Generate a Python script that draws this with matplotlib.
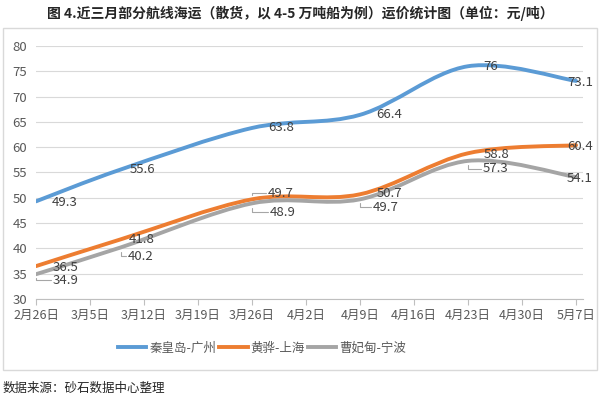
import pandas as pd
import matplotlib
matplotlib.use('Agg')
import matplotlib.pyplot as plt
import matplotlib.dates as mdates
from matplotlib.path import Path
from matplotlib.patches import PathPatch, Rectangle
from matplotlib.lines import Line2D

plt.rcParams['font.family'] = ['Noto Sans CJK SC', 'DejaVu Sans']

# data
dates = ['2019-02-26', '2019-03-09', '2019-03-26', '2019-04-09', '2019-04-23', '2019-05-07']
names = ['秦皇岛-广州', '黄骅-上海', '曹妃甸-宁波']
qhd_gz = [49.3, 55.6, 63.8, 66.4, 76.0, 73.1]
hh_sh = [36.5, 41.8, 49.7, 50.7, 58.8, 60.4]
cfd_nb = [34.9, 40.2, 48.9, 49.7, 57.3, 54.1]
tick_labels = ['2月26日', '3月5日', '3月12日', '3月19日', '3月26日', '4月2日',
               '4月9日', '4月16日', '4月23日', '4月30日', '5月7日']
y_ticks = [30, 35, 40, 45, 50, 55, 60, 65, 70, 75, 80]

title = '图 4.近三月部分航线海运（散货，以 4-5 万吨船为例）运价统计图（单位：元/吨）'
source = '数据来源：砂石数据中心整理'

colors = ['#5B9BD5', '#ED7D31', '#A5A5A5']
# label offsets in pixels (dx, dy), and whether a leader line is drawn
label_offsets = [
    [(29, -1), (22, 0), (29, 0), (29, 0), (23, 0), (4, -2)],
    [(30, -1), (21, 0), (29, 6), (29, 1), (29, -1), (4, -1)],
    [(30, -6), (20, -9), (31, -9), (26, -8), (28, -8), (4, -1)],
]
leaders = [
    [False] * 6,
    [False, False, True, False, False, False],
    [True, True, True, True, True, False],
]


def smooth_path(x, y):
    """Excel-like smoothed line as cubic bezier segments."""
    pts = list(zip(x, y))
    n = len(pts)
    verts = [pts[0]]
    codes = [Path.MOVETO]
    for i in range(n - 1):
        p0 = pts[max(i - 1, 0)]
        p1 = pts[i]
        p2 = pts[i + 1]
        p3 = pts[min(i + 2, n - 1)]
        c1 = (p1[0] + (p2[0] - p0[0]) / 6, p1[1] + (p2[1] - p0[1]) / 6)
        c2 = (p2[0] - (p3[0] - p1[0]) / 6, p2[1] - (p3[1] - p1[1]) / 6)
        verts += [c1, c2, p2]
        codes += [Path.CURVE4] * 3
    return Path(verts, codes)


fig = plt.figure(figsize=(6, 3.98), dpi=100)
ax = fig.add_axes([36 / 600, 1 - 299 / 398, (583 - 36) / 600, (299 - 46) / 398])

x = mdates.date2num(pd.to_datetime(dates))
tick_x = mdates.date2num(pd.date_range(dates[0], periods=len(tick_labels), freq='7D'))

series = [qhd_gz, hh_sh, cfd_nb]
for vals, color in zip(series, colors):
    patch = PathPatch(smooth_path(x, vals), fill=False, edgecolor=color, lw=2.8,
                      capstyle='round', joinstyle='round', zorder=3)
    ax.add_patch(patch)

for s, vals in enumerate(series):
    for i, v in enumerate(vals):
        dx, dy = label_offsets[s][i]
        txt = f'{v:g}'
        ax.annotate(txt, xy=(x[i], v), xytext=(dx, dy), textcoords='offset pixels',
                    ha='center', va='center', fontsize=9.5, color='#404040', zorder=5)
        if leaders[s][i]:
            # short bent leader from near the point to the label
            lx = dx - 15
            ax.annotate('', xy=(x[i], v), xytext=(lx, dy), textcoords='offset pixels',
                        arrowprops=dict(arrowstyle='-', color='#a6a6a6', lw=0.8,
                                        shrinkA=0, shrinkB=3,
                                        connectionstyle='angle,angleA=0,angleB=90,rad=0'),
                        zorder=4)

ax.set_xlim(x[0], x[0] + 70.9)
ax.set_ylim(30, 80)
ax.set_yticks(y_ticks)
ax.set_xticks(tick_x)
ax.set_xticklabels(tick_labels)
ax.yaxis.grid(True, color='#d9d9d9', lw=0.8)
ax.set_axisbelow(True)
for side in ['top', 'right', 'left']:
    ax.spines[side].set_visible(False)
ax.spines['bottom'].set_color('#bfbfbf')
ax.tick_params(axis='y', length=0, pad=6.5, labelsize=9.5, labelcolor='#595959')
ax.tick_params(axis='x', length=4, color='#bfbfbf', pad=3, labelsize=9, labelcolor='#595959')

handles = [Line2D([], [], color=c, lw=2.8) for c in colors]
fig.legend(handles, names, loc='center', bbox_to_anchor=(262 / 600, 1 - 348 / 398),
           ncol=3, frameon=False, fontsize=9, handlelength=2.3, handletextpad=0.25,
           columnspacing=0.2, labelcolor='#595959')

fig.patches.append(Rectangle((3 / 600, 1 - 370 / 398), 594 / 600, 342 / 398,
                             transform=fig.transFigure, fill=False,
                             edgecolor='#d9d9d9', lw=1))
fig.text(0.5, 1 - 13 / 398, title, ha='center', va='center', fontsize=10,
         fontweight='bold', color='#262626')
fig.text(3 / 600, 1 - 388 / 398, source, ha='left', va='center', fontsize=9,
         color='#262626')

fig.savefig('out.png', dpi=100, facecolor='white')
